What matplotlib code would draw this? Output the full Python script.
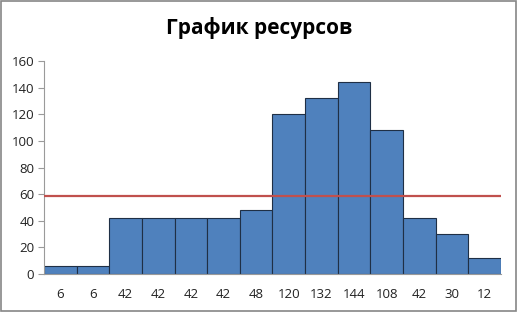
import matplotlib
matplotlib.use("Agg")
import matplotlib.pyplot as plt
from matplotlib.patches import Rectangle

# data
categories = ["6", "6", "42", "42", "42", "42", "48", "120", "132", "144", "108", "42", "30", "12"]
resources = [6, 6, 42, 42, 42, 42, 48, 120, 132, 144, 108, 42, 30, 12]
average_level = 58.5
y_ticks = [0, 20, 40, 60, 80, 100, 120, 140, 160]

BAR = "#4f81bd"
EDGE = "#1f2f45"
RED = "#c0504d"
GRID = "#9a9a9a"

plt.rcParams["font.family"] = ["Open Sans", "DejaVu Sans"]

fig = plt.figure(figsize=(5.18, 3.12), dpi=100)
ax = fig.add_axes([0.085, 0.122, 0.882, 0.682])

x = range(len(resources))
ax.bar(x, resources, width=1.0, color=BAR, edgecolor=EDGE, linewidth=0.8, zorder=2)
ax.axhline(average_level, color=RED, linewidth=1.6, zorder=3)

ax.set_xlim(-0.5, len(resources) - 0.5)
ax.set_ylim(0, 160)
ax.set_yticks(y_ticks)
ax.set_xticks(list(x))
ax.set_xticklabels(categories)
ax.tick_params(axis="y", labelsize=9.5, length=4, color=GRID, pad=3, labelcolor="#222222")
ax.tick_params(axis="x", labelsize=9.5, length=0, pad=10, labelcolor="#222222")

for side in ["top", "right"]:
    ax.spines[side].set_visible(False)
for side in ["left", "bottom"]:
    ax.spines[side].set_color(GRID)
    ax.spines[side].set_linewidth(0.8)

fig.text(0.5, 0.91, "График ресурсов", ha="center", va="center",
         fontsize=15, fontweight="bold")

# outer chart border
fig.patches.append(Rectangle((0.002, 0.003), 0.995, 0.994, transform=fig.transFigure,
                             fill=False, edgecolor="#868686", linewidth=1.2))

fig.savefig("out.png", dpi=100)
